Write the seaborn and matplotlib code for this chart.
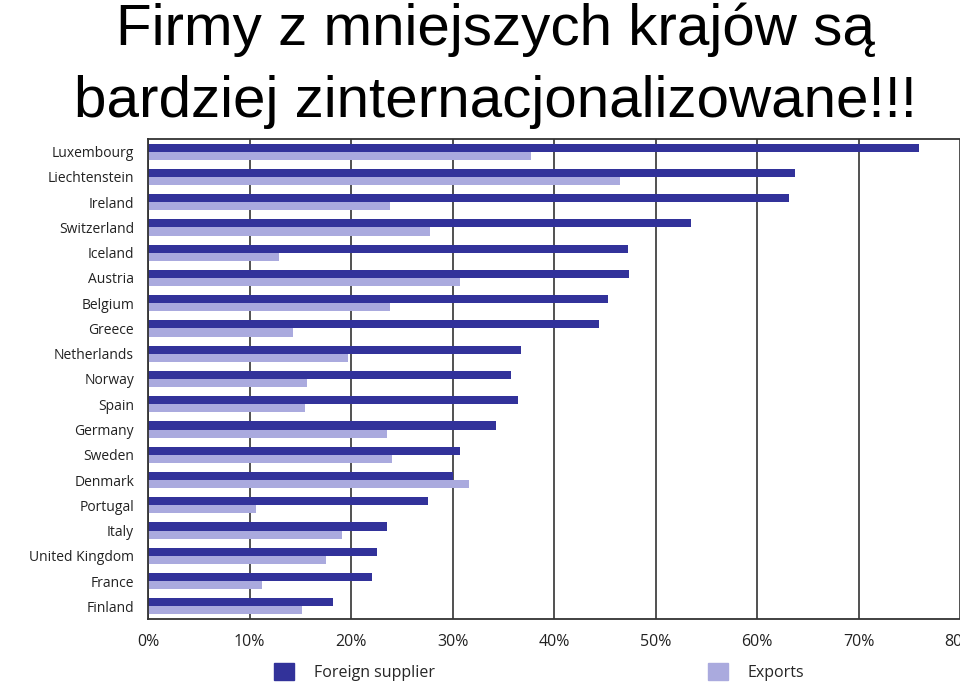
import matplotlib
matplotlib.use("Agg")
import matplotlib.pyplot as plt
import seaborn as sns
import pandas as pd
from matplotlib.patches import Patch

countries = ["Luxembourg", "Liechtenstein", "Ireland", "Switzerland", "Iceland", "Austria",
             "Belgium", "Greece", "Netherlands", "Norway", "Spain", "Germany", "Sweden",
             "Denmark", "Portugal", "Italy", "United Kingdom", "France", "Finland"]
foreign_supplier = [76.0, 63.7, 63.2, 53.5, 47.3, 47.4, 45.3, 44.4, 36.7, 35.8, 36.5, 34.3,
                    30.7, 30.0, 27.6, 23.5, 22.6, 22.1, 18.2]
exports = [37.7, 46.5, 23.8, 27.8, 12.9, 30.7, 23.8, 14.3, 19.7, 15.7, 15.5, 23.5,
           24.0, 31.6, 10.6, 19.1, 17.5, 11.2, 15.2]
series_names = ["Foreign supplier", "Exports"]
x_ticks = [0, 10, 20, 30, 40, 50, 60, 70, 80]
x_tick_labels = ["0%", "10%", "20%", "30%", "40%", "50%", "60%", "70%", "80%"]
title_lines = ["Firmy z mniejszych krajów są", "bardziej zinternacjonalizowane!!!"]

dark = "#32329a"
light = "#aaaade"

df = pd.DataFrame({
    "country": countries * 2,
    "value": foreign_supplier + exports,
    "series": [series_names[0]] * len(countries) + [series_names[1]] * len(countries),
})

sns.set_theme(style="white")
plt.rcParams["font.family"] = ["Open Sans", "DejaVu Sans"]

fig = plt.figure(figsize=(9.6, 6.89), dpi=100)
ax = fig.add_axes([148 / 960, 1 - 619 / 689, 1 - 148 / 960, (619 - 139) / 689])

sns.barplot(data=df, y="country", x="value", hue="series", orient="h",
            palette=[dark, light], width=0.64, ax=ax, legend=False,
            saturation=1, linewidth=0)

ax.set_xlim(0, 80)
ax.set_ylim(18.5, -0.5)
ax.set_xticks(x_ticks)
ax.set_xticklabels(x_tick_labels, fontsize=11.5, color="#222222")
ax.tick_params(axis="y", labelsize=10, colors="#222222", length=0, pad=10)
ax.tick_params(axis="x", length=0, pad=11)
ax.set_xlabel("")
ax.set_ylabel("")
ax.set_axisbelow(True)
ax.grid(axis="x", color="#333333", linewidth=1.2)
ax.grid(axis="y", visible=False)
for s in ["left", "bottom", "top"]:
    ax.spines[s].set_visible(True)
    ax.spines[s].set_color("#333333")
    ax.spines[s].set_linewidth(1.3)
ax.spines["right"].set_visible(False)

fig.text(0.516, 1 - 45 / 689, title_lines[0], ha="center", va="baseline", fontsize=42,
         family=["Liberation Sans", "DejaVu Sans"], color="black")
fig.text(0.516, 1 - 117 / 689, title_lines[1], ha="center", va="baseline", fontsize=42,
         family=["Liberation Sans", "DejaVu Sans"], color="black")

fig.legend(handles=[Patch(facecolor=dark, edgecolor=dark)], labels=[series_names[0]],
           loc="center left", bbox_to_anchor=(268 / 960, 1 - 672 / 689), frameon=False,
           fontsize=11.5, handlelength=1.25, handleheight=1.25, handletextpad=1.2,
           borderaxespad=0)
fig.legend(handles=[Patch(facecolor=light, edgecolor=light)], labels=[series_names[1]],
           loc="center left", bbox_to_anchor=(702 / 960, 1 - 672 / 689), frameon=False,
           fontsize=11.5, handlelength=1.25, handleheight=1.25, handletextpad=1.2,
           borderaxespad=0)

fig.savefig("out.png", dpi=100)
